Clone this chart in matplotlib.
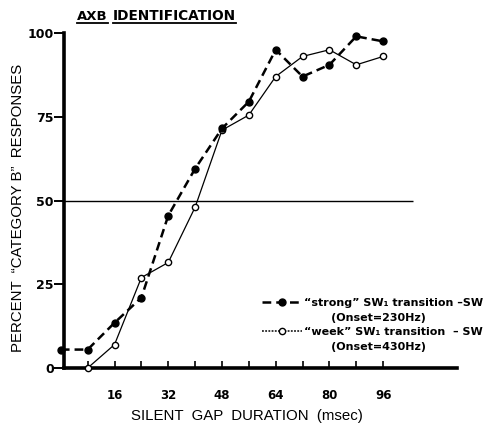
import matplotlib
matplotlib.use("Agg")
import matplotlib.pyplot as plt
from matplotlib.lines import Line2D

# ---- data ----
gap_strong = [0, 8, 16, 24, 32, 40, 48, 56, 64, 72, 80, 88, 96]
pct_strong = [5.5, 5.5, 13.5, 21, 45.5, 59.5, 71.5, 79.5, 95, 87, 90.5, 99, 97.5]
gap_weak = [8, 16, 24, 32, 40, 48, 56, 64, 72, 80, 88, 96]
pct_weak = [0, 7, 27, 31.5, 48, 71, 75.5, 87, 93, 95, 90.5, 93]
y_ticks = [0, 25, 50, 75, 100]
x_major = [16, 32, 48, 64, 80, 96]
x_minor = [8, 16, 24, 32, 40, 48, 56, 64, 72, 80, 88, 96]
ref_level = 50
ref_end = 105

label_strong = "\u201cstrong\u201d SW\u2081 transition \u2013SW"
label_strong2 = "       (Onset=230Hz)"
label_weak = "\u201cweek\u201d SW\u2081 transition  \u2013 SW"
label_weak2 = "       (Onset=430Hz)"

W, H = 495, 428
fig = plt.figure(figsize=(W / 100, H / 100), dpi=100)
ax = fig.add_axes([63.5 / W, 1 - 368 / H, (457 - 63.5) / W, (368 - 33) / H])
ax.set_xlim(0.8, 118)
ax.set_ylim(0, 100)

ax.hlines(ref_level, 0.8, ref_end, color="black", lw=1.0, zorder=1)

ls_weak_leg = (0, (1.2, 0.9))
ax.plot(gap_weak, pct_weak, color="black", lw=0.9, ls="-",
        marker="o", ms=4.5, mfc="white", mec="black", mew=1.0, zorder=3,
        clip_on=False)
ax.plot(gap_strong, pct_strong, color="black", lw=1.8, ls=(0, (3.5, 2.0)),
        marker="o", ms=5, mfc="black", mec="black", zorder=4, clip_on=False)

for s in ["top", "right"]:
    ax.spines[s].set_visible(False)
ax.spines["left"].set_linewidth(2.6)
ax.spines["bottom"].set_linewidth(2.6)

ax.set_yticks(y_ticks)
ax.set_yticklabels([str(v) for v in y_ticks], fontweight="bold", fontsize=9,
                   family="DejaVu Sans")
ax.tick_params(axis="y", direction="out", length=7, width=1.4, pad=0)

ax.set_xticks(x_major)
ax.set_xticklabels([str(v) for v in x_major], fontweight="bold", fontsize=8.5,
                   family="DejaVu Sans")
ax.set_xticks(x_minor, minor=True)
ax.tick_params(axis="x", which="both", direction="in", length=5, width=1.2,
               pad=15)

fig.text(18 / W, 1 - 208 / H, "PERCENT  \u201cCATEGORY B\u201d  RESPONSES",
         rotation=90, ha="center", va="center", fontsize=10.8,
         family="Liberation Sans")
fig.text(247 / W, 1 - 416 / H, "SILENT  GAP  DURATION  (msec)",
         ha="center", va="center", fontsize=10.8, family="Liberation Sans")

# title, each word underlined
fig.canvas.draw()
r = fig.canvas.get_renderer()
t1 = fig.text(77 / W, 1 - 16 / H, "AXB", ha="left", va="center",
              fontsize=9.5, fontweight="bold", family="DejaVu Sans")
bb1 = t1.get_window_extent(r)
t2 = fig.text(113 / W, 1 - 16 / H, "IDENTIFICATION", ha="left", va="center",
              fontsize=9.8, fontweight="bold", family="DejaVu Sans")
bb2 = t2.get_window_extent(r)
for bb in (bb1, bb2):
    y = (H - 23) / H
    fig.add_artist(Line2D([bb.x0 / W, bb.x1 / W], [y, y], color="black",
                          lw=1.3, transform=fig.transFigure))

h_strong = Line2D([], [], color="black", lw=1.8, ls=(0, (3.5, 2.0)),
                  marker="o", ms=5, mfc="black", mec="black")
h_weak = Line2D([], [], color="black", lw=1.1, ls=ls_weak_leg, marker="o",
                ms=4.5, mfc="white", mec="black")
h_none = Line2D([], [], color="none")
leg = ax.legend([h_strong, h_none, h_weak, h_none],
                [label_strong, label_strong2, label_weak, label_weak2],
                loc="upper left", bbox_to_anchor=(262 / W, 1 - 298 / H),
                bbox_transform=fig.transFigure, frameon=False,
                handlelength=3.6, handletextpad=0.2, borderpad=0,
                borderaxespad=0, labelspacing=0.42,
                prop={"size": 8, "weight": "bold", "family": "DejaVu Sans"})

fig.savefig("out.png", dpi=100)
